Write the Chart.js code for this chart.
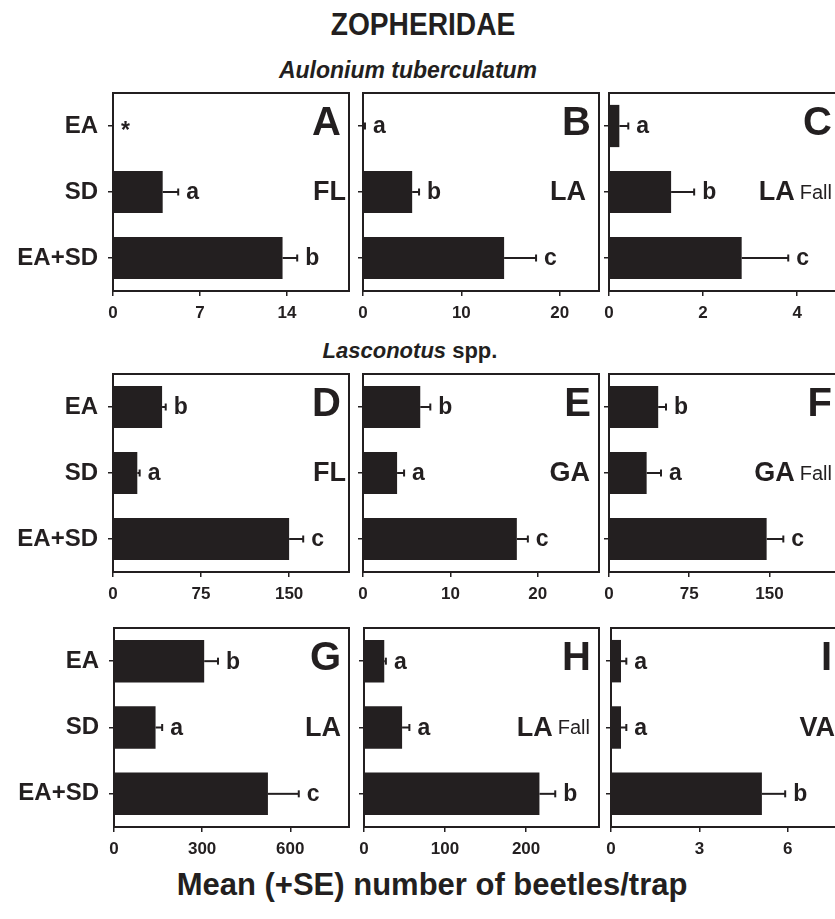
<!DOCTYPE html>
<html><head><meta charset="utf-8">
<script src="https://cdn.jsdelivr.net/npm/chart.js@4/dist/chart.umd.min.js"></script>
<style>
html,body{margin:0;padding:0;background:#fff;overflow:hidden;width:835px;height:919px;}
body{position:relative;font-family:'Liberation Sans',Arial,sans-serif;color:#231f20;}
.t{position:absolute;white-space:nowrap;font-weight:bold;line-height:1;}
canvas{position:absolute;}
</style></head><body>
<div class="t" style="left:423px;top:24px;font-size:32px;transform:translate(-50%,-50%) scaleX(0.88)">ZOPHERIDAE</div>
<div class="t" style="left:408px;top:70px;font-size:23px;font-style:italic;transform:translate(-50%,-50%)">Aulonium tuberculatum</div>
<div class="t" style="left:410px;top:351px;font-size:22px;transform:translate(-50%,-50%)"><i>Lasconotus</i> spp.</div>
<div class="t" style="left:432px;top:884px;font-size:31px;transform:translate(-50%,-50%)">Mean (+SE) number of beetles/trap</div>
<script>
// ---------- DATA ----------
const categories = ['EA', 'SD', 'EA+SD'];

const meansA = [0, 4.0, 13.65];   const seA = [null, 1.25, 1.18]; const lettersA = ['*', 'a', 'b'];
const meansB = [0, 5.0, 14.35];   const seB = [0.2, 0.7, 3.25];   const lettersB = ['a', 'b', 'c'];
const meansC = [0.22, 1.32, 2.82]; const seC = [0.19, 0.49, 0.99]; const lettersC = ['a', 'b', 'c'];
const meansD = [41.8, 20.7, 150]; const seD = [3.1, 2.0, 12];     const lettersD = ['b', 'a', 'c'];
const meansE = [6.55, 3.9, 17.6]; const seE = [1.15, 0.8, 1.26];  const lettersE = ['b', 'a', 'c'];
const meansF = [46, 35.2, 147.4]; const seF = [7.3, 13.4, 15.6];  const lettersF = ['b', 'a', 'c'];
const meansG = [307, 141.5, 524]; const seG = [47, 22.5, 105];    const lettersG = ['b', 'a', 'c'];
const meansH = [25, 47, 216.5];   const seH = [2, 9, 19.5];       const lettersH = ['a', 'a', 'b'];
const meansI = [0.34, 0.34, 5.12]; const seI = [0.18, 0.18, 0.79]; const lettersI = ['a', 'a', 'b'];

const ticksA = [0, 7, 14];   const maxA = 19;
const ticksB = [0, 10, 20];  const maxB = 24;
const ticksC = [0, 2, 4];    const maxC = 4.91;
const ticksD = [0, 75, 150]; const maxD = 201;
const ticksE = [0, 10, 20];  const maxE = 27;
const ticksF = [0, 75, 150]; const maxF = 216;
const ticksG = [0, 300, 600]; const maxG = 800;
const ticksH = [0, 100, 200]; const maxH = 290;
const ticksI = [0, 3, 6];    const maxI = 7.77;

const stateA = 'FL', stateB = 'LA', stateC = 'LA', stateD = 'FL', stateE = 'GA',
      stateF = 'GA', stateG = 'LA', stateH = 'LA', stateI = 'VA';
const seasonC = 'Fall', seasonF = 'Fall', seasonH = 'Fall';

// ---------- LAYOUT ----------
const INK = '#231f20';
const FONT = "'Liberation Sans', Arial, sans-serif";
const rows = [[93, 291], [374, 572], [628, 827]];
const cols = [[113, 349], [363, 599], [609, 840]];

const panels = [
  {id:'A', means:meansA, se:seA, letters:lettersA, ticks:ticksA, max:maxA, state:stateA, season:null,    r:0, c:0, inset:3},
  {id:'B', means:meansB, se:seB, letters:lettersB, ticks:ticksB, max:maxB, state:stateB, season:null,    r:0, c:1, inset:13},
  {id:'C', means:meansC, se:seC, letters:lettersC, ticks:ticksC, max:maxC, state:stateC, season:seasonC, r:0, c:2, inset:8},
  {id:'D', means:meansD, se:seD, letters:lettersD, ticks:ticksD, max:maxD, state:stateD, season:null,    r:1, c:0, inset:3},
  {id:'E', means:meansE, se:seE, letters:lettersE, ticks:ticksE, max:maxE, state:stateE, season:null,    r:1, c:1, inset:9},
  {id:'F', means:meansF, se:seF, letters:lettersF, ticks:ticksF, max:maxF, state:stateF, season:seasonF, r:1, c:2, inset:8},
  {id:'G', means:meansG, se:seG, letters:lettersG, ticks:ticksG, max:maxG, state:stateG, season:null,    r:2, c:0, inset:8},
  {id:'H', means:meansH, se:seH, letters:lettersH, ticks:ticksH, max:maxH, state:stateH, season:seasonH, r:2, c:1, inset:9},
  {id:'I', means:meansI, se:seI, letters:lettersI, ticks:ticksI, max:maxI, state:stateI, season:null,    r:2, c:2, inset:5}
];

const annot = {
  id: 'annot',
  afterDatasetsDraw(chart, args, o) {
    const {ctx, chartArea: ca, scales: {x}} = chart;
    const meta = chart.getDatasetMeta(0);
    ctx.save();
    ctx.strokeStyle = INK; ctx.fillStyle = INK; ctx.lineWidth = 2;
    meta.data.forEach((bar, i) => {
      const m = o.means[i], se = o.se[i];
      let endX = x.getPixelForValue(m);
      if (se != null) {
        const ex = x.getPixelForValue(m + se);
        ctx.beginPath(); ctx.moveTo(endX, bar.y); ctx.lineTo(ex, bar.y); ctx.stroke();
        ctx.beginPath(); ctx.moveTo(ex, bar.y - 3.5); ctx.lineTo(ex, bar.y + 3.5); ctx.stroke();
        endX = ex;
      }
      const t = o.letters[i];
      ctx.font = 'bold 23px ' + FONT;
      ctx.textAlign = 'left'; ctx.textBaseline = 'middle';
      ctx.fillText(t, endX + 8, bar.y + (t === '*' ? 6 : 1));
    });
    // frame
    ctx.lineWidth = 2;
    ctx.strokeRect(ca.left, ca.top, ca.right - ca.left, ca.bottom - ca.top);
    // panel letter
    const y0 = meta.data[0].y, y1 = meta.data[1].y;
    ctx.textAlign = 'right'; ctx.textBaseline = 'middle';
    ctx.font = 'bold 40px ' + FONT;
    ctx.fillText(o.id, ca.right - 8, y0 - 2);
    // state label
    const rx = ca.right - o.inset;
    if (o.season) {
      ctx.font = '20px ' + FONT;
      const sw = ctx.measureText(o.season).width;
      ctx.fillText(o.season, rx, y1 + 1);
      ctx.font = 'bold 27px ' + FONT;
      ctx.fillText(o.state, rx - sw - 5, y1 + 1);
    } else {
      ctx.font = 'bold 27px ' + FONT;
      ctx.fillText(o.state, rx, y1 + 1);
    }
    ctx.restore();
  }
};

panels.forEach(p => {
  const [T, B] = rows[p.r];
  let [L, R] = cols[p.c];
  if (p.id === 'G') L = 114;
  if (p.id === 'H') L = 364;
  if (p.id === 'I') L = 611;
  const Wy = p.c === 0 ? L : 14;
  const Hx = 40;
  const cv = document.createElement('canvas');
  const W = Wy + (R - L) + 2, H = 2 + (B - T) + Hx;
  cv.width = W; cv.height = H;
  cv.style.left = (L - Wy) + 'px'; cv.style.top = (T - 2) + 'px';
  cv.style.width = W + 'px'; cv.style.height = H + 'px';
  document.body.appendChild(cv);
  new Chart(cv, {
    type: 'bar',
    data: {
      labels: categories,
      datasets: [{data: p.means, backgroundColor: INK, borderWidth: 0,
                   barPercentage: 0.64, categoryPercentage: 1}]
    },
    options: {
      indexAxis: 'y',
      responsive: false, animation: false, devicePixelRatio: 1,
      layout: {padding: {top: 2, right: 2, left: 0, bottom: 0}},
      plugins: {legend: {display: false}, tooltip: {enabled: false},
                annot: {means: p.means, se: p.se, letters: p.letters, id: p.id,
                        state: p.state, season: p.season, inset: p.inset}},
      scales: {
        x: {
          type: 'linear', min: 0, max: p.max,
          afterBuildTicks: s => { s.ticks = p.ticks.map(v => ({value: v})); },
          afterFit: s => { s.height = Hx; s.paddingLeft = 0; s.paddingRight = 0; },
          grid: {drawOnChartArea: false, drawTicks: true, tickLength: 5, color: INK, lineWidth: 1.5},
          border: {display: true, color: INK, width: 2},
          ticks: {color: INK, font: {family: FONT, size: 17, weight: 'bold'}, padding: 7, maxRotation: 0}
        },
        y: {
          type: 'category',
          afterFit: s => { s.width = Wy; s.paddingTop = 0; s.paddingBottom = 0; },
          grid: {offset: false, drawOnChartArea: false, drawTicks: true, tickLength: 5, color: INK, lineWidth: 1.5},
          border: {display: true, color: INK, width: 2},
          ticks: {display: p.c === 0, color: INK, font: {family: FONT, size: 24, weight: 'bold'}, padding: 10}
        }
      }
    },
    plugins: [annot]
  });
});
</script>
</body></html>
